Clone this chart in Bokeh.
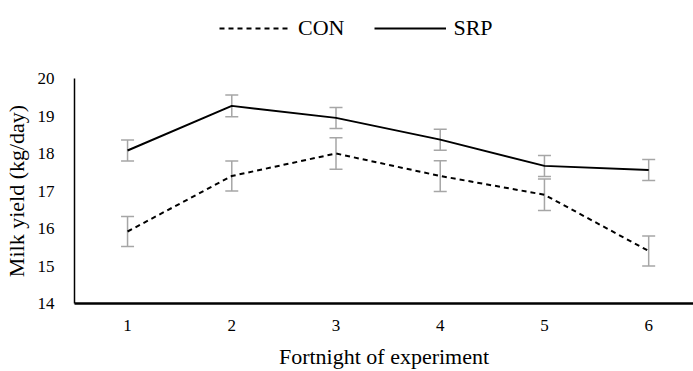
from bokeh.plotting import figure
from bokeh.models import ColumnDataSource, Whisker, TeeHead, Legend, LegendItem, FixedTicker, Range1d
from bokeh.layouts import column
from bokeh.embed import file_html
from bokeh.resources import INLINE

fortnight = [1, 2, 3, 4, 5, 6]
con_mean = [15.92, 17.40, 18.00, 17.40, 16.90, 15.40]
con_se = [0.40, 0.40, 0.42, 0.41, 0.42, 0.40]
srp_mean = [18.08, 19.27, 18.95, 18.37, 17.67, 17.56]
srp_se = [0.28, 0.29, 0.28, 0.28, 0.28, 0.28]
y_ticks = [14, 15, 16, 17, 18, 19, 20]
series_names = ["CON", "SRP"]

FONT = "'Liberation Serif', serif"
ERR = "#a6a6a6"
W = 693
TOP_H = 55
TOTAL_H = 371

con_src = ColumnDataSource(dict(
    x=fortnight, y=con_mean,
    upper=[m + s for m, s in zip(con_mean, con_se)],
    lower=[m - s for m, s in zip(con_mean, con_se)],
))
srp_src = ColumnDataSource(dict(
    x=fortnight, y=srp_mean,
    upper=[m + s for m, s in zip(srp_mean, srp_se)],
    lower=[m - s for m, s in zip(srp_mean, srp_se)],
))

p = figure(width=W, height=TOTAL_H - TOP_H, output_backend="svg", toolbar_location=None,
           x_range=Range1d(0.491, 6.43), y_range=Range1d(14, 20),
           min_border_left=74, min_border_right=0, min_border_top=23, min_border_bottom=67)
p.outline_line_color = None
p.grid.visible = False
p.background_fill_color = "white"

for src in (con_src, srp_src):
    w = Whisker(base="x", upper="upper", lower="lower", source=src, dimension="height",
                line_color=ERR, line_width=1.5,
                upper_head=TeeHead(size=13, line_color=ERR, line_width=1.5),
                lower_head=TeeHead(size=13, line_color=ERR, line_width=1.5))
    p.add_layout(w)

p.line("x", "y", source=con_src, line_color="black", line_width=2, line_dash="5 4")
p.line("x", "y", source=srp_src, line_color="black", line_width=2)

# axes
p.xaxis.ticker = FixedTicker(ticks=fortnight)
p.yaxis.ticker = FixedTicker(ticks=y_ticks)
for ax in (p.xaxis, p.yaxis):
    ax.major_tick_line_color = None
    ax.minor_tick_line_color = None
    ax.axis_line_color = "black"
    ax.major_label_text_font = FONT
    ax.major_label_text_font_size = "17px"
    ax.major_label_text_color = "black"
    ax.axis_label_text_font = FONT
    ax.axis_label_text_font_size = "22px"
    ax.axis_label_text_font_style = "normal"
    ax.axis_label_text_color = "black"
p.xaxis.axis_line_width = 2.5
p.yaxis.axis_line_width = 1.5
p.xaxis.major_label_standoff = 10
p.yaxis.major_label_standoff = 14
p.xaxis.axis_label = "Fortnight of experiment"
p.yaxis.axis_label = "Milk yield (kg/day)"
p.xaxis.axis_label_standoff = 10
p.yaxis.axis_label_standoff = 6

# legend strip above the chart (dummy renderers kept outside the visible range)
top = figure(width=W, height=TOP_H, output_backend="svg", toolbar_location=None,
             x_range=Range1d(0, 1), y_range=Range1d(0, 1),
             min_border=0, x_axis_type=None, y_axis_type=None)
top.outline_line_color = None
top.grid.visible = False
lc = top.line(x=[5, 6], y=[5, 5], line_color="black", line_width=2, line_dash="5 4")
ls = top.line(x=[5, 6], y=[5, 5], line_color="black", line_width=2)
legend = Legend(items=[LegendItem(label=series_names[0], renderers=[lc]),
                       LegendItem(label=series_names[1], renderers=[ls])],
                orientation="horizontal", location=(145, 14),
                label_text_font=FONT, label_text_font_size="22px", label_text_color="black",
                glyph_width=72, glyph_height=20, label_height=20,
                label_standoff=7, spacing=30, padding=0, margin=0,
                border_line_alpha=0, background_fill_alpha=0)
top.add_layout(legend, "center")

layout = column(top, p, spacing=0)
open("out.html", "w").write(file_html(layout, INLINE))
